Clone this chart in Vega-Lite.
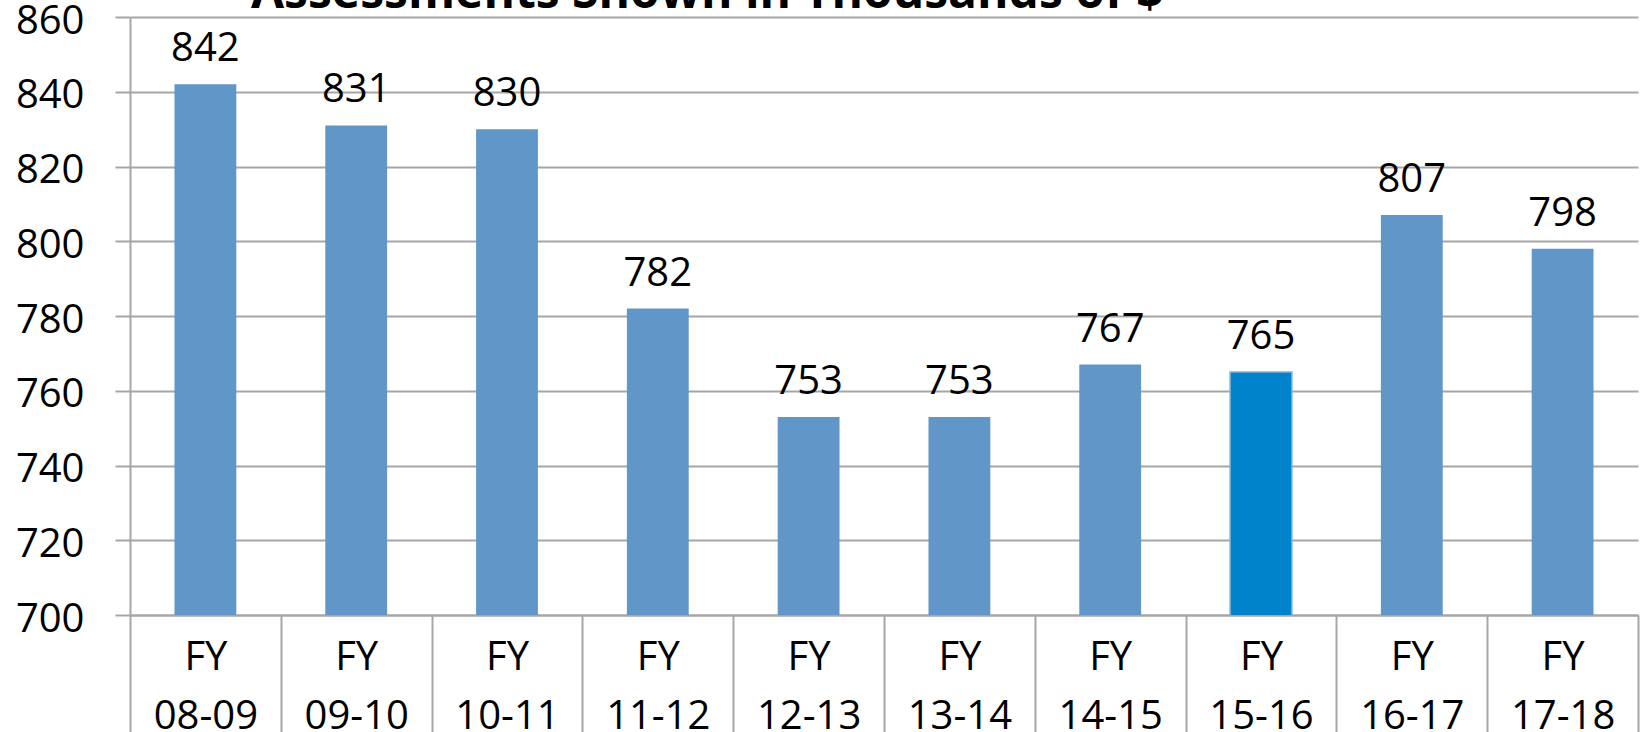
{
  "$schema": "https://vega.github.io/schema/vega-lite/v6.json",
  "autosize": "none",
  "width": 1508,
  "height": 598,
  "padding": {"left": 130, "top": 17, "right": 7, "bottom": 117},
  "background": "white",
  "title": {
    "text": "Assessments Shown in Thousands of $",
    "anchor": "start",
    "frame": "group",
    "dx": 121,
    "offset": -55,
    "baseline": "alphabetic",
    "font": "Open Sans",
    "fontSize": 48,
    "fontWeight": "bold",
    "color": "black"
  },
  "data": {
    "values": [
      {"fy": "08-09", "value": 842},
      {"fy": "09-10", "value": 831},
      {"fy": "10-11", "value": 830},
      {"fy": "11-12", "value": 782},
      {"fy": "12-13", "value": 753},
      {"fy": "13-14", "value": 753},
      {"fy": "14-15", "value": 767},
      {"fy": "15-16", "value": 765},
      {"fy": "16-17", "value": 807},
      {"fy": "17-18", "value": 798}
    ]
  },
  "encoding": {
    "x": {
      "field": "fy",
      "type": "nominal",
      "sort": null,
      "scale": {"paddingInner": 0, "paddingOuter": 0},
      "axis": {
        "title": null,
        "labelAngle": 0,
        "labelExpr": "datum.label ? ['FY', datum.label] : ''",
        "labelFont": "Open Sans",
        "labelFontSize": 40,
        "labelColor": "black",
        "labelLineHeight": 59,
        "labelPadding": -108,
        "labelBaseline": "top",
        "tickBand": "extent",
        "tickSize": 130,
        "tickColor": "#A6A6A6",
        "tickWidth": 2,
        "domainColor": "#A6A6A6",
        "domainWidth": 2,
        "grid": false
      }
    },
    "y": {
      "field": "value",
      "type": "quantitative",
      "scale": {"domain": [700, 860], "nice": false, "zero": false},
      "axis": {
        "title": null,
        "values": [700, 720, 740, 760, 780, 800, 820, 840, 860],
        "labelFont": "Open Sans",
        "labelFontSize": 40,
        "labelColor": "black",
        "labelPadding": 31,
        "labelOffset": 4,
        "tickSize": 15,
        "tickColor": "#A6A6A6",
        "tickWidth": 2,
        "domainColor": "#A6A6A6",
        "domainWidth": 2,
        "grid": true,
        "gridColor": "#A6A6A6",
        "gridWidth": 2
      }
    }
  },
  "layer": [
    {
      "mark": {"type": "bar", "clip": true, "width": {"band": 0.41}},
      "encoding": {
        "color": {
          "condition": {"test": "datum.fy === '15-16'", "value": "#0083CB"},
          "value": "#6096C8"
        },
        "stroke": {
          "condition": {"test": "datum.fy === '15-16'", "value": "#7FB2DE"},
          "value": null
        },
        "strokeWidth": {"value": 1.5}
      }
    },
    {
      "mark": {
        "type": "text",
        "baseline": "alphabetic",
        "dy": -23,
        "font": "Open Sans",
        "fontSize": 40,
        "color": "black"
      },
      "encoding": {
        "text": {"field": "value", "type": "quantitative"}
      }
    }
  ],
  "config": {"view": {"stroke": null}}
}
